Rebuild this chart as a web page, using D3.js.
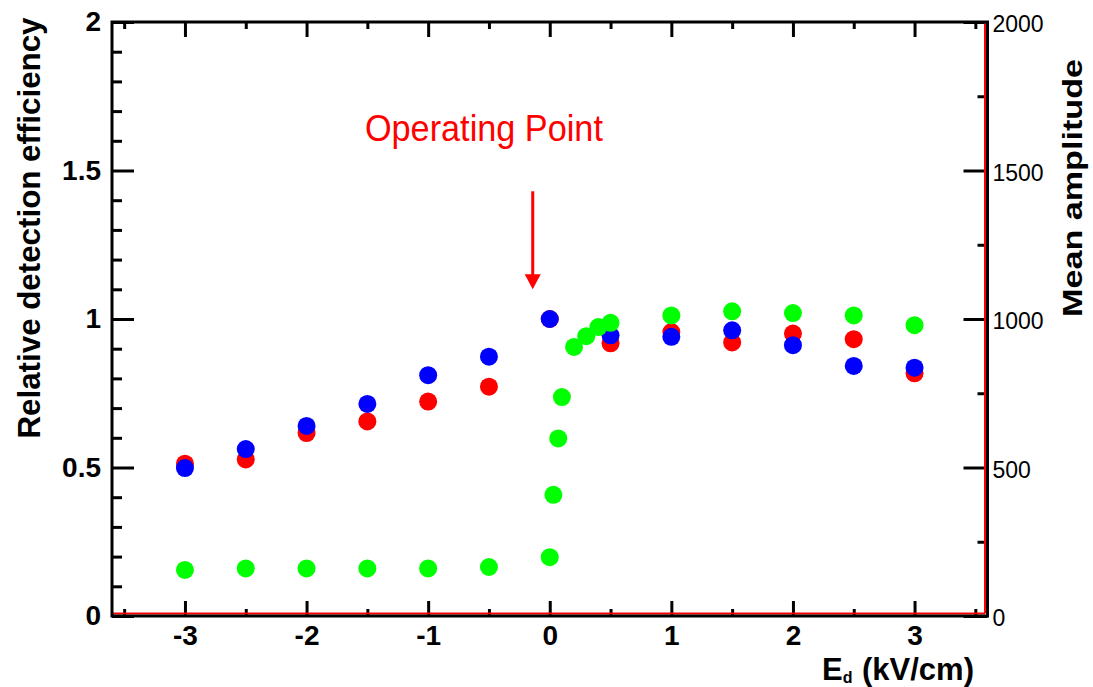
<!DOCTYPE html>
<html>
<head>
<meta charset="utf-8">
<script src="https://cdn.jsdelivr.net/npm/d3@7"></script>
<style>
  html, body { margin: 0; padding: 0; background: #fff; }
  svg { display: block; }
  text { font-family: "Liberation Sans", Arial, Helvetica, sans-serif; }
</style>
</head>
<body>
<svg id="chart" width="1093" height="687"></svg>
<script>
// Drift field scan: relative efficiency (left axis) and mean amplitude (right axis)
const fieldSteps = [-3, -2.5, -2, -1.5, -1, -0.5, 0, 0.5, 1, 1.5, 2, 2.5, 3];
const effRed  = [0.513, 0.527, 0.616, 0.655, 0.722, 0.772, 1.0, 0.918, 0.956, 0.921, 0.951, 0.932, 0.817];
const effBlue = [0.498, 0.562, 0.640, 0.714, 0.811, 0.873, 1.0, 0.945, 0.940, 0.962, 0.912, 0.842, 0.836];

const ampField = [-3, -2.5, -2, -1.5, -1, -0.5, 0, 0.03, 0.07, 0.1, 0.2, 0.3, 0.4, 0.5, 1, 1.5, 2, 2.5, 3];
const ampMean  = [155, 160, 160, 160, 160, 165, 198, 408, 598, 737, 906, 942, 973, 987, 1012, 1026, 1020, 1012, 979];

const xMajorTicks = [-3, -2, -1, 0, 1, 2, 3];
const xMinorTicks = [-3.5, -2.5, -1.5, -0.5, 0.5, 1.5, 2.5, 3.5];
const yMajorTicks = [0, 0.5, 1, 1.5, 2];
const yMinorTicks = d3.range(0, 21).map(i => i / 10).filter(v => Math.abs(v * 2 - Math.round(v * 2)) > 1e-6);
const rMajorTicks = [0, 500, 1000, 1500, 2000];
const rMinorTicks = [250, 750, 1250, 1750];

const opLabel = "Operating Point";
const opArrow = { x: -0.14, yFrom: 1.43, yTo: 1.10 };
const opText  = { x: -1.52, y: 1.6 };

const svg = d3.select("#chart");
const padL = 112, padR = 987.5, padT = 22, padB = 616;

const x  = d3.scaleLinear().domain([-3.6, 3.6]).range([padL, padR]);
const y  = d3.scaleLinear().domain([0, 2]).range([padB, padT]);
const yR = d3.scaleLinear().domain([0, 2000]).range([padB, padT]);

const fmt = d => String(d);

function styleAxis(g, fontSize, weight) {
  g.select(".domain").remove();
  g.selectAll(".tick line").attr("stroke", "#000").attr("stroke-width", 3);
  g.selectAll(".tick text")
    .attr("fill", "#000")
    .style("font-size", fontSize + "px")
    .style("font-weight", weight)
    .style("font-family", "'Liberation Sans', Arial, sans-serif");
}

// bottom axis (ticks point inward)
svg.append("g").attr("transform", `translate(0,${padB})`)
  .call(d3.axisBottom(x).tickValues(xMajorTicks).tickSize(-15).tickPadding(9).tickFormat(fmt))
  .call(g => styleAxis(g, 28, "bold"));
svg.append("g").attr("transform", `translate(0,${padB})`)
  .call(d3.axisBottom(x).tickValues(xMinorTicks).tickSize(-7).tickFormat(""))
  .call(g => styleAxis(g, 10, "normal"));

// top axis mirrors the bottom ticks
svg.append("g").attr("transform", `translate(0,${padT})`)
  .call(d3.axisTop(x).tickValues(xMajorTicks).tickSize(-15).tickFormat(""))
  .call(g => styleAxis(g, 10, "normal"));
svg.append("g").attr("transform", `translate(0,${padT})`)
  .call(d3.axisTop(x).tickValues(xMinorTicks).tickSize(-7).tickFormat(""))
  .call(g => styleAxis(g, 10, "normal"));

// left axis
svg.append("g").attr("transform", `translate(${padL},0)`)
  .call(d3.axisLeft(y).tickValues(yMajorTicks).tickSize(-22).tickPadding(11).tickFormat(fmt))
  .call(g => styleAxis(g, 28, "bold"));
svg.append("g").attr("transform", `translate(${padL},0)`)
  .call(d3.axisLeft(y).tickValues(yMinorTicks).tickSize(-10).tickFormat(""))
  .call(g => styleAxis(g, 10, "normal"));

// right axis (mean amplitude)
svg.append("g").attr("transform", `translate(${padR},0)`)
  .call(d3.axisRight(yR).tickValues(rMajorTicks).tickSize(-24).tickPadding(5).tickFormat(fmt))
  .call(g => styleAxis(g, 23, "normal"))
  .call(g => g.selectAll(".tick text").attr("dy", "0.42em"));
svg.append("g").attr("transform", `translate(${padR},0)`)
  .call(d3.axisRight(yR).tickValues(rMinorTicks).tickSize(-10).tickFormat(""))
  .call(g => styleAxis(g, 10, "normal"));

// red axis lines along the bottom and right edge
svg.append("line").attr("x1", padL).attr("x2", padR - 2.5).attr("y1", padB - 2.5).attr("y2", padB - 2.5)
  .attr("stroke", "#ff0000").attr("stroke-width", 2);
svg.append("line").attr("x1", padR - 2.5).attr("x2", padR - 2.5).attr("y1", padT).attr("y2", padB - 2.5)
  .attr("stroke", "#ff0000").attr("stroke-width", 2);

// black frame
svg.append("path")
  .attr("d", `M${padL},${padT}H${padR}V${padB}H${padL}Z`)
  .attr("fill", "none").attr("stroke", "#000").attr("stroke-width", 3);

// markers: red, then blue, then green on top
const R = 9;
svg.append("g").selectAll("circle").data(fieldSteps.map((f, i) => [f, effRed[i]]))
  .join("circle").attr("cx", d => x(d[0])).attr("cy", d => y(d[1])).attr("r", R).attr("fill", "#ff0000");
svg.append("g").selectAll("circle").data(fieldSteps.map((f, i) => [f, effBlue[i]]))
  .join("circle").attr("cx", d => x(d[0])).attr("cy", d => y(d[1])).attr("r", R).attr("fill", "#0000ff");
svg.append("g").selectAll("circle").data(ampField.map((f, i) => [f, ampMean[i]]))
  .join("circle").attr("cx", d => x(d[0])).attr("cy", d => yR(d[1])).attr("r", R).attr("fill", "#00ff00");

// axis titles
svg.append("text")
  .attr("transform", "translate(40,228) rotate(-90)")
  .attr("text-anchor", "middle")
  .attr("textLength", 421).attr("lengthAdjust", "spacingAndGlyphs")
  .style("font-size", "31px").style("font-weight", "bold")
  .text("Relative detection efficiency");

svg.append("text")
  .attr("transform", "translate(1082,188) rotate(-90)")
  .attr("text-anchor", "middle")
  .attr("textLength", 258).attr("lengthAdjust", "spacingAndGlyphs")
  .style("font-size", "27px").style("font-weight", "bold")
  .text("Mean amplitude");

const xt = svg.append("text").attr("x", 822).attr("y", 679.5)
  .style("font-size", "31px").style("font-weight", "bold");
xt.append("tspan").text("E");
xt.append("tspan").attr("dy", 3).style("font-size", "16px").text("d");
xt.append("tspan").attr("x", 862).attr("dy", -3).text("(kV/cm)");

// operating point annotation
svg.append("text")
  .attr("x", x(opText.x)).attr("y", y(opText.y))
  .attr("textLength", 238).attr("lengthAdjust", "spacingAndGlyphs")
  .attr("fill", "#ff0000")
  .style("font-size", "37px")
  .text(opLabel);

const ax = x(opArrow.x), ay0 = y(opArrow.yFrom), ay1 = y(opArrow.yTo);
svg.append("line").attr("x1", ax).attr("x2", ax).attr("y1", ay0).attr("y2", ay1 - 12)
  .attr("stroke", "#ff0000").attr("stroke-width", 3);
svg.append("path")
  .attr("d", `M${ax - 8},${ay1 - 15}L${ax + 8},${ay1 - 15}L${ax},${ay1}Z`)
  .attr("fill", "#ff0000");
</script>
</body>
</html>
